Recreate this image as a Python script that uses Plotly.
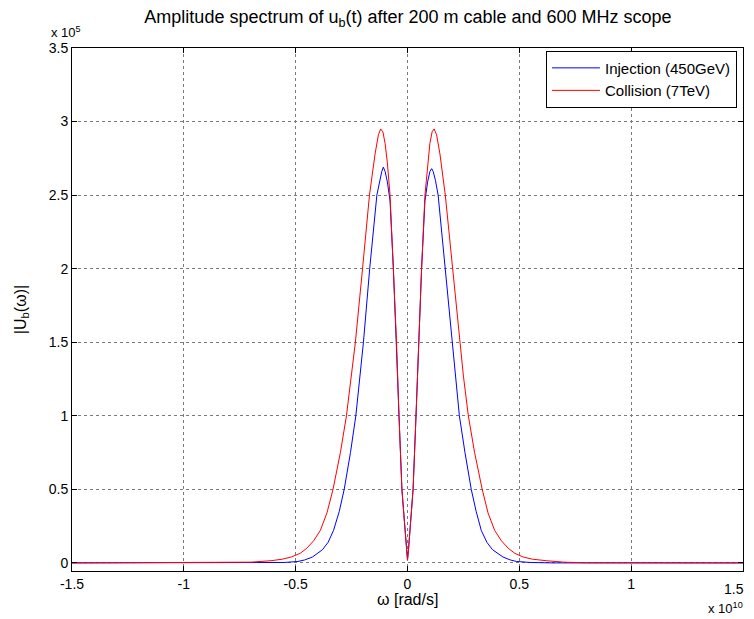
import plotly.graph_objects as go

# omega in units of 1e10 rad/s, |U_b| in units of 1e5
omega_inj = [-1.5, -0.65, -0.55, -0.49, -0.46, -0.425, -0.38, -0.355, -0.331, -0.305,
             -0.283, -0.255, -0.231, -0.197, -0.169, -0.137, -0.125, -0.115, -0.108, -0.1,
             -0.09, -0.078, -0.063, -0.049, -0.038, -0.025, -0.015, -0.005, 0.0,
             0.005, 0.015, 0.025, 0.038, 0.049, 0.063, 0.078, 0.09, 0.1, 0.108,
             0.115, 0.125, 0.137, 0.169, 0.198, 0.232, 0.257, 0.285, 0.307, 0.33,
             0.355, 0.38, 0.427, 0.46, 0.487, 0.55, 0.65, 1.5]
u_inj = [0.0, 0.0, 0.003, 0.01, 0.02, 0.04, 0.09, 0.14, 0.22, 0.35,
         0.5, 0.75, 1.0, 1.5, 2.0, 2.5, 2.6, 2.66, 2.69, 2.66,
         2.59, 2.46, 2.0, 1.5, 1.0, 0.5, 0.3, 0.1, 0.02,
         0.1, 0.3, 0.5, 1.0, 1.5, 2.0, 2.46, 2.59, 2.66, 2.68,
         2.66, 2.6, 2.5, 2.0, 1.5, 1.0, 0.75, 0.5, 0.35, 0.22,
         0.14, 0.09, 0.04, 0.02, 0.01, 0.003, 0.0, 0.0]

omega_col = [-1.5, -0.8, -0.7, -0.61, -0.56, -0.52, -0.48, -0.45, -0.42, -0.39,
             -0.36, -0.333, -0.3, -0.273, -0.25, -0.233, -0.201, -0.17, -0.145, -0.13,
             -0.12, -0.11, -0.1, -0.09, -0.078, -0.063, -0.049, -0.038, -0.025, -0.015,
             -0.005, 0.0,
             0.005, 0.015, 0.025, 0.038, 0.049, 0.063, 0.078, 0.09, 0.1, 0.11,
             0.119, 0.13, 0.145, 0.169, 0.202, 0.232, 0.25, 0.272, 0.3, 0.334,
             0.36, 0.39, 0.42, 0.45, 0.48, 0.517, 0.56, 0.62, 0.7, 0.8, 1.5]
u_col = [0.0, 0.001, 0.005, 0.015, 0.025, 0.04, 0.065, 0.1, 0.15, 0.22,
         0.34, 0.5, 0.75, 1.0, 1.27, 1.5, 2.0, 2.5, 2.78, 2.91,
         2.95, 2.93, 2.85, 2.72, 2.5, 2.0, 1.5, 1.0, 0.5, 0.3,
         0.1, 0.02,
         0.1, 0.3, 0.5, 1.0, 1.5, 2.0, 2.5, 2.72, 2.85, 2.93,
         2.95, 2.91, 2.78, 2.5, 2.0, 1.5, 1.27, 1.0, 0.75, 0.5,
         0.34, 0.22, 0.15, 0.1, 0.065, 0.04, 0.025, 0.015, 0.005, 0.001, 0.0]

# last x tick label is drawn as an annotation so it is not clipped at the window edge
x_ticks = [-1.5, -1, -0.5, 0, 0.5, 1, 1.5]
x_tick_text = ["-1.5", "-1", "-0.5", "0", "0.5", "1", ""]
x_last_label = "1.5"
y_ticks = [0, 0.5, 1, 1.5, 2, 2.5, 3, 3.5]
y_tick_text = ["0", "0.5", "1", "1.5", "2", "2.5", "3", "3.5"]

font = "Liberation Sans, Arial, sans-serif"

fig = go.Figure()
fig.add_trace(go.Scatter(x=omega_inj, y=u_inj, mode="lines", name="Injection (450GeV)",
                         line=dict(color="#0000ff", width=1)))
fig.add_trace(go.Scatter(x=omega_col, y=u_col, mode="lines", name="Collision (7TeV)",
                         line=dict(color="#ff0000", width=1)))

axis_common = dict(
    showline=True, linecolor="black", linewidth=1, mirror="ticks",
    ticks="inside", ticklen=5, tickcolor="black",
    showgrid=True, gridcolor="#7a7a7a", griddash="dot", gridwidth=1,
    zeroline=False, automargin=False,
    tickfont=dict(family=font, size=14, color="black"),
)

# the page body adds an 8px margin, so the figure is kept a little smaller than the window
fig.update_layout(
    width=746, height=611,
    paper_bgcolor="white", plot_bgcolor="white",
    margin=dict(l=64, r=11, t=40, b=48),
    font=dict(family=font, size=15, color="black"),
    title=dict(text="Amplitude spectrum of u<sub>b</sub>(t) after 200 m cable and 600 MHz scope",
               x=400 / 746, xanchor="center", y=1 - 9 / 611, yanchor="middle",
               font=dict(family=font, size=18, color="black")),
    xaxis=dict(range=[-1.5, 1.5], tickvals=x_ticks, ticktext=x_tick_text, **axis_common),
    yaxis=dict(range=[-0.055, 3.5], tickvals=y_ticks, ticktext=y_tick_text,
               title=dict(text="|U<sub>b</sub>(ω)|", standoff=18, font=dict(family=font, size=16)),
               **axis_common),
    legend=dict(x=0.991, y=0.995, xanchor="right", yanchor="top",
                bgcolor="white", bordercolor="black", borderwidth=1,
                font=dict(family=font, size=15, color="black"),
                itemwidth=48, tracegroupgap=0),
    showlegend=True,
)

fig.add_annotation(text=x_last_label, xref="paper", yref="paper",
                   x=1.004, y=-0.016, xanchor="right", yanchor="top",
                   showarrow=False, font=dict(family=font, size=14))
fig.add_annotation(text="ω [rad/s]", xref="paper", yref="paper",
                   x=0.5, y=-0.055, xanchor="center", yanchor="middle",
                   showarrow=False, font=dict(family=font, size=16))
fig.add_annotation(text="x 10<sup>5</sup>", xref="paper", yref="paper",
                   x=-0.035, y=1.012, xanchor="left", yanchor="bottom",
                   showarrow=False, font=dict(family=font, size=13))
fig.add_annotation(text="x 10<sup>10</sup>", xref="paper", yref="paper",
                   x=1.003, y=-0.071, xanchor="right", yanchor="middle",
                   showarrow=False, font=dict(family=font, size=13))

fig.write_html("out.html")
